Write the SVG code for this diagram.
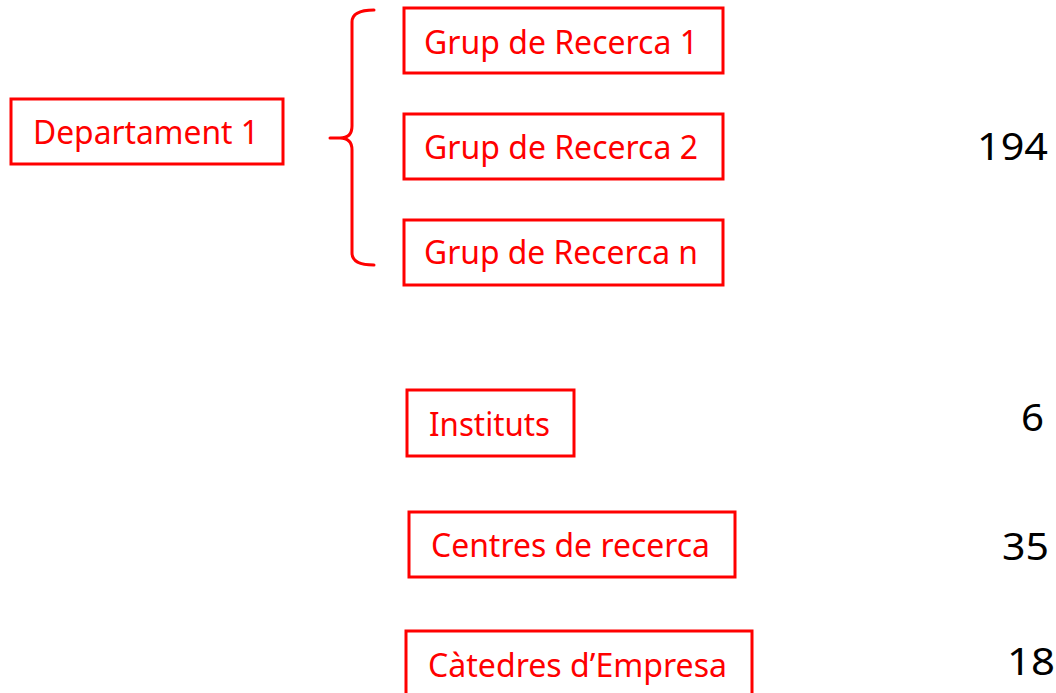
<svg xmlns="http://www.w3.org/2000/svg" width="1056" height="693" viewBox="0 0 1056 693">
<style>
.box{fill:#fff;stroke:#ff0000;stroke-width:3}
.lbl{font-family:"Noto Sans","Open Sans",sans-serif;font-size:33px;fill:#ff0000}
.num{font-family:"Noto Sans","Open Sans",sans-serif;font-size:39px;fill:#000}
.brace{fill:none;stroke:#ff0000;stroke-width:3;stroke-linecap:round}
</style>
<rect width="1056" height="693" fill="#fff"/>
<g id="connectors">
<path class="brace" d="M374,10 Q352,10 352,22 L352,126 Q352,138 340,138 L330,138 M340,138 Q352,138 352,150 L352,253 Q352,265 374,265"/>
</g>
<g id="dept1"><rect class="box" x="11" y="99" width="272" height="65"/><text class="lbl" x="33" y="144" textLength="226" lengthAdjust="spacingAndGlyphs">Departament 1</text></g>
<g id="grup1"><rect class="box" x="404" y="8" width="319" height="65"/><text class="lbl" x="424" y="54" textLength="274" lengthAdjust="spacingAndGlyphs">Grup de Recerca 1</text></g>
<g id="grup2"><rect class="box" x="404" y="114" width="319" height="65"/><text class="lbl" x="424" y="159" textLength="274" lengthAdjust="spacingAndGlyphs">Grup de Recerca 2</text></g>
<g id="grupn"><rect class="box" x="404" y="220" width="319" height="65"/><text class="lbl" x="424" y="264" textLength="274" lengthAdjust="spacingAndGlyphs">Grup de Recerca n</text></g>
<g id="instituts"><rect class="box" x="407" y="390" width="167" height="66"/><text class="lbl" x="429" y="436" textLength="121" lengthAdjust="spacingAndGlyphs">Instituts</text></g>
<g id="centres"><rect class="box" x="409" y="512" width="326" height="65"/><text class="lbl" x="431" y="557" textLength="279" lengthAdjust="spacingAndGlyphs">Centres de recerca</text></g>
<g id="catedres"><rect class="box" x="406" y="631" width="346" height="70"/><text class="lbl" x="428" y="677" textLength="299" lengthAdjust="spacingAndGlyphs">Càtedres d’Empresa</text></g>
<g id="numbers">
<text class="num" x="977" y="160" textLength="71" lengthAdjust="spacingAndGlyphs">194</text>
<text class="num" x="1021" y="431" textLength="23" lengthAdjust="spacingAndGlyphs">6</text>
<text class="num" x="1002" y="560" textLength="47" lengthAdjust="spacingAndGlyphs">35</text>
<text class="num" x="1007" y="675" textLength="48" lengthAdjust="spacingAndGlyphs">18</text>
</g>
</svg>
